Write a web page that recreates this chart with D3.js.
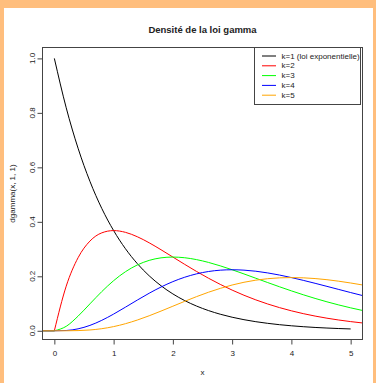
<!DOCTYPE html>
<html>
<head>
<meta charset="utf-8">
<script src="https://cdn.jsdelivr.net/npm/d3@7"></script>
<style>
  body { margin: 0; background: #fff; }
  svg { display: block; }
  text { font-family: "Liberation Sans", Arial, Helvetica, sans-serif; fill: #222; }
</style>
</head>
<body>
<svg id="chart" width="376" height="383"></svg>
<script>
// Gamma densities dgamma(x, k, 1), tabulated on a 0.2 grid.
// k=1 is drawn over [0, 5]; the other curves span the whole plotting range [-0.2, 5.2].
const xExp = [0, 0.2, 0.4, 0.6, 0.8, 1.0, 1.2, 1.4, 1.6, 1.8, 2.0, 2.2, 2.4, 2.6, 2.8,
              3.0, 3.2, 3.4, 3.6, 3.8, 4.0, 4.2, 4.4, 4.6, 4.8, 5.0];
const xAdd = [-0.2, 0, 0.2, 0.4, 0.6, 0.8, 1.0, 1.2, 1.4, 1.6, 1.8, 2.0, 2.2, 2.4, 2.6, 2.8,
              3.0, 3.2, 3.4, 3.6, 3.8, 4.0, 4.2, 4.4, 4.6, 4.8, 5.0, 5.2];

const densK1 = [1, 0.81873, 0.67032, 0.54881, 0.44933, 0.36788, 0.30119, 0.24660, 0.20190,
                0.16530, 0.13534, 0.11080, 0.09072, 0.07427, 0.06081, 0.04979, 0.04076,
                0.03337, 0.02732, 0.02237, 0.01832, 0.01500, 0.01228, 0.01005, 0.00823, 0.00674];
const densK2 = [0, 0, 0.16375, 0.26813, 0.32929, 0.35946, 0.36788, 0.36143, 0.34524, 0.32304,
                0.29754, 0.27067, 0.24377, 0.21772, 0.19311, 0.17027, 0.14936, 0.13044,
                0.11347, 0.09837, 0.08500, 0.07326, 0.06298, 0.05402, 0.04624, 0.03950,
                0.03369, 0.02870];
const densK3 = [0, 0, 0.01637, 0.05363, 0.09879, 0.14379, 0.18394, 0.21686, 0.24167, 0.25843,
                0.26779, 0.27067, 0.26815, 0.26126, 0.25104, 0.23838, 0.22404, 0.20870,
                0.19290, 0.17707, 0.16150, 0.14653, 0.13226, 0.11884, 0.10635, 0.09480,
                0.08422, 0.07462];
const densK4 = [0, 0, 0.00109, 0.00715, 0.01976, 0.03834, 0.06131, 0.08674, 0.11278, 0.13783,
                0.16067, 0.18045, 0.19664, 0.20901, 0.21757, 0.22249, 0.22404, 0.22261,
                0.21862, 0.21248, 0.20457, 0.19537, 0.18516, 0.17430, 0.16307, 0.15168,
                0.14037, 0.12934];
const densK5 = [0, 0, 0.00005, 0.00072, 0.00296, 0.00767, 0.01533, 0.02602, 0.03947, 0.05513,
                0.07230, 0.09022, 0.10815, 0.12541, 0.14142, 0.15574, 0.16803, 0.17809,
                0.18583, 0.19123, 0.19434, 0.19537, 0.19442, 0.19173, 0.18753, 0.18202,
                0.17546, 0.16814];

const seriesLabels = ["k=1 (loi exponentielle)", "k=2", "k=3", "k=4", "k=5"];
const seriesColors = ["#000000", "#ff0000", "#00ff00", "#0000ff", "#ffa500"];
const xTicks = [0, 1, 2, 3, 4, 5];
const yTicks = [0, 0.2, 0.4, 0.6, 0.8, 1.0];

const series = [
  { xs: xExp, ys: densK1 },
  { xs: xAdd, ys: densK2 },
  { xs: xAdd, ys: densK3 },
  { xs: xAdd, ys: densK4 },
  { xs: xAdd, ys: densK5 }
];

const svg = d3.select("#chart");
const W = 376, H = 383;
const box = { left: 42.5, right: 362.5, top: 47.5, bottom: 339.5 };

svg.append("rect").attr("width", W).attr("height", H).attr("fill", "#fff");

// Page frame
const frame = "#ffbe7d";
svg.append("rect").attr("x", 0).attr("y", 0).attr("width", W).attr("height", 8).attr("fill", frame);
svg.append("rect").attr("x", 0).attr("y", 0).attr("width", 4).attr("height", H).attr("fill", frame);
svg.append("rect").attr("x", 373).attr("y", 0).attr("width", 3).attr("height", H).attr("fill", frame);

const x = d3.scaleLinear().domain([-0.2, 5.2]).range([box.left, box.right]);
const y = d3.scaleLinear().domain([-0.032, 1.04]).range([box.bottom, box.top]);

const axisColor = "#444";

// Curves: the flat part left of zero is drawn straight, the density itself smoothly
const smooth = d3.line()
  .x(d => x(d[0]))
  .y(d => y(d[1]))
  .curve(d3.curveMonotoneX);
const straight = d3.line()
  .x(d => x(d[0]))
  .y(d => y(d[1]));

series.forEach((s, i) => {
  const pts = s.xs.map((v, j) => [v, s.ys[j]]);
  const neg = pts.filter(p => p[0] <= 0);
  const pos = pts.filter(p => p[0] >= 0);
  let d = smooth(pos);
  if (neg.length > 1) d = straight(neg) + d.replace(/^M/, "L");
  svg.append("path")
    .attr("d", d)
    .attr("fill", "none")
    .attr("stroke", seriesColors[i])
    .attr("stroke-width", 1);
});

// X axis
const xAxis = svg.append("g")
  .attr("transform", `translate(0,${box.bottom})`)
  .call(d3.axisBottom(x).tickValues(xTicks).tickSize(5).tickPadding(6).tickFormat(d3.format("d")));
xAxis.select(".domain").remove();
xAxis.selectAll("line").attr("stroke", axisColor);
xAxis.selectAll("text").attr("font-size", 8).attr("fill", "#222")
  .style("font-family", '"Liberation Sans", Arial, sans-serif');

// Y axis
const yAxis = svg.append("g")
  .attr("transform", `translate(${box.left},0)`)
  .call(d3.axisLeft(y).tickValues(yTicks).tickSize(5).tickFormat(() => ""));
yAxis.select(".domain").remove();
yAxis.selectAll("line").attr("stroke", axisColor);
svg.append("g").selectAll("text")
  .data(yTicks)
  .join("text")
  .attr("transform", d => `translate(32,${y(d)}) rotate(-90)`)
  .attr("text-anchor", "middle")
  .attr("dominant-baseline", "central")
  .attr("font-size", 8)
  .text(d3.format(".1f"));

// Plot box
svg.append("rect")
  .attr("x", box.left).attr("y", box.top)
  .attr("width", box.right - box.left).attr("height", box.bottom - box.top)
  .attr("fill", "none").attr("stroke", axisColor).attr("stroke-width", 1);

// Titles
const cx = (box.left + box.right) / 2;
svg.append("text").attr("x", cx).attr("y", 29)
  .attr("text-anchor", "middle").attr("dominant-baseline", "central")
  .attr("font-size", 9.5).attr("font-weight", "bold")
  .text("Densité de la loi gamma");
svg.append("text").attr("x", cx).attr("y", 372)
  .attr("text-anchor", "middle").attr("dominant-baseline", "central")
  .attr("font-size", 8).text("x");
svg.append("text")
  .attr("transform", `translate(12,${(box.top + box.bottom) / 2}) rotate(-90)`)
  .attr("text-anchor", "middle").attr("dominant-baseline", "central")
  .attr("font-size", 8).text("dgamma(x, 1, 1)");

// Legend
const lg = svg.append("g");
lg.append("rect")
  .attr("x", 254.5).attr("y", 47.5).attr("width", 106).attr("height", 57)
  .attr("fill", "#fff").attr("stroke", axisColor).attr("stroke-width", 1);
seriesLabels.forEach((lab, i) => {
  const ly = 56 + i * 9.8;
  lg.append("line").attr("x1", 262).attr("x2", 276).attr("y1", ly).attr("y2", ly)
    .attr("stroke", seriesColors[i]).attr("stroke-width", 1);
  lg.append("text").attr("x", 281.5).attr("y", ly)
    .attr("dominant-baseline", "central").attr("font-size", 8).text(lab);
});
</script>
</body>
</html>
